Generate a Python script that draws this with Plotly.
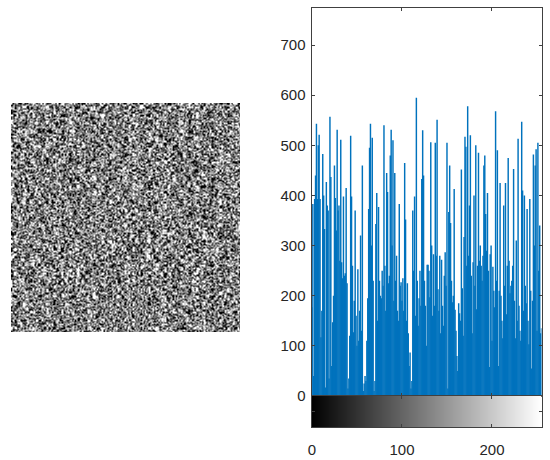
import numpy as np
import plotly.graph_objects as go

# Histogram counts per grey level (bins between visible peaks are estimates)
hist_counts = [
177,383,40,393,440,543,393,500,521,393,
117,170,483,400,333,17,427,380,370,35,
557,437,60,147,200,460,395,330,531,370,
380,270,511,267,235,398,240,245,415,225,
15,35,120,519,398,260,127,190,370,160,
100,253,110,170,320,130,460,10,25,40,
30,110,195,373,495,543,300,515,230,10,
30,343,405,150,377,230,200,195,250,220,
540,260,170,445,407,225,240,480,531,300,
510,190,445,230,280,170,150,383,220,227,
190,235,170,465,352,150,225,125,60,87,
15,30,370,250,398,160,595,230,140,195,
250,180,433,530,440,230,180,100,262,262,
250,197,506,300,160,283,180,505,280,551,
213,170,280,125,272,180,140,240,287,220,
505,15,367,460,345,230,187,200,413,172,
130,80,50,185,165,150,452,215,120,317,
517,497,260,578,280,380,520,240,125,267,
400,220,500,173,260,485,270,300,260,230,
280,460,480,363,290,405,250,58,283,300,
110,258,210,177,568,230,490,60,210,425,
200,150,115,380,220,425,163,260,475,270,
205,220,230,260,453,190,115,310,150,513,
180,130,110,547,410,170,400,220,185,373,
150,103,393,210,55,190,482,300,460,492,
130,505,250,340,125,135,
]
grey_levels = list(range(256))
x_ticks = [0, 100, 200]
y_ticks = [0, 100, 200, 300, 400, 500, 600, 700]

# Hand-typed texture sample (hex grey levels): the reference noise is too fine to read cell by cell
noise_rows = [
"2e80c5f19a3d07b6e14f82c09d7a3fe5106cb48a",
"b17f3a06de92c45810fa7e3b6c09d1f4825ea73c",
"05ca9e41f7382db06e1c95fa30748edb26c1f09a",
"e83b17d602fa4c9e5b08d37f1ea6209cf4b7315d",
"7c02f6a9385ed1b40c7ef2198da63b05ce92f417",
"4af81d3ec07295bf6e031ca8f74d29e0b56c18d3",
"d2096bf3a18e47c05dfa2e6093b7c1f84e0a3d69",
"38ec5107cfb46a2d91e3f08a57c2d6b3019ef47a",
"f14a7d92e06c3b58fa17e4029dc86f3b1a05e7c2",
"0b9362efa8d15c70e4b29f6d0138ca7fe5420b6d",
"a6e0c3718f4db29501fe7c3a86d0e19b47f2c358",
"5d172bf0e6938ac4d06f1be52a97038cf1d6e40b",
"c048fa3d1e72b960c5a8e03f7d162b9e480fa3c7",
"1fe96c05b3a7d284f01ec69b3582de07a4c1f96b",
"83b2d7e0469cf15ae73d0b82f6c41a95e0d738fc",
"e6015ac9f2387bd0416ef9a2d05c73b18fe24a06",
"47dcb10e8f63a2c5097db4e1f8263ca05e91d7f3",
"90f3e62a5d1c8b07fe4a3c917de05b682fc04ae1",
"2c78a0f1d49e63b5c20e8f7a1436dbc905f2e78a",
"fb15e3806c2a97d4f1b06e38ca52091f7de4b360",
"6a09d4c7f3e15a82b07dfc3e6094a1b8e52c07fd",
"d38e72b0a15f9c46e32a0d8fb71c64e09a3f581c",
"07f1ca59e2864b3dfa607c1e94bd25038fe16c97",
"be4603fd18a7c92e05b48df2a6301e79c5d08f2b",
"19a5ef27c06db38f41ec07a593d1f6e28b4c0a75",
"c73e08b6f4912ad0e75f1c38b60a4d9e2f08c1b6",
"5f02d8a1e37c94b60fda2e7158c3b09f64e1a7d3",
"e8b1637f0ca5d24e91f06bd37ae0285c1fb4930e",
"34c9fe05a286d1b73ec4f9012db76a3e08f5c1a9",
"a0176dc2f84e3905bf1a7e6c402d9fb815e3070d",
"dfe3801b5c97f26a0d4e8c31b9f705a6e2d1473c",
"2865f0ae3d19c7b4f06a2ed5813c9f07b4ea260f",
"f1094cb7e62a8d3f15c07ea9346bd0f18c52e7a3",
"7bda1e05f394c68e20b7fd1a4c6039ed8f15b20c",
"0e42c98fa61d3b75ef08c2b96d17a3f0e49c851b",
"c6f71b30de85a29c047fe3a1d86b52e09f3c7d16",
"938e05d6a2f1c47b0e9d36fa17c84e02b6f1a05e",
"1ca4f7e29038db6e51f0a8c37d29e6b1405fcd38",
"e50b3d81c6f9a27e04d3b1fe6a0c9785f2e13b9a",
"46f2a9073ec1d85fb6270ce49fa1d3086ebc5172",
]
# Re-ordering steps for the blocks: each block reuses the sample with rows and columns re-ordered
block_steps = [
    [(3, 7), (11, 9), (7, 13), (29, 31), (33, 3)],
    [(9, 17), (13, 3), (19, 11), (37, 27), (21, 33)],
    [(17, 21), (21, 19), (27, 23), (3, 29), (31, 37)],
    [(23, 33), (31, 27), (9, 37), (11, 21), (39, 7)],
    [(7, 29), (33, 11), (13, 39), (17, 9), (27, 19)],
]

tile = np.array([[int(ch, 16) * 17 for ch in row] for row in noise_rows])
n = tile.shape[0]
def block(r_step, c_step):
    return tile[np.ix_((np.arange(n) * r_step + 5) % n, (np.arange(n) * c_step + 2) % n)]
noise_image = np.block([[block(*s) for s in row] for row in block_steps])
n_cells = noise_image.shape[0]

# Stems of the histogram, one vertical line per grey level, through the axes' own scales
stem_x, stem_y = [], []
for g, c in zip(grey_levels, hist_counts):
    stem_x += [g, g, None]
    stem_y += [0, c, None]

W, H = 550, 460
fx = lambda a, b: [a / W, b / W]
fy = lambda a, b: [1 - b / H, 1 - a / H]
ax_col = "#404040"
font = dict(family="Liberation Sans, Arial, sans-serif", size=15, color="#262626")
grey_scale = [[0, "#000000"], [1, "#ffffff"]]

fig = go.Figure()
fig.add_trace(go.Heatmap(z=noise_image, colorscale=grey_scale, zmin=28, zmax=228, zsmooth="best",
                         showscale=False, xaxis="x", yaxis="y", hoverinfo="skip"))
fig.add_trace(go.Scatter(x=stem_x, y=stem_y, mode="lines", line=dict(color="#0072BD", width=1.45),
                         xaxis="x2", yaxis="y2", hoverinfo="skip", connectgaps=False))
fig.add_trace(go.Heatmap(z=[grey_levels], x=grey_levels, colorscale=grey_scale, zmin=0, zmax=255,
                         showscale=False, xaxis="x3", yaxis="y3", hoverinfo="skip"))

common = dict(showline=True, linecolor=ax_col, linewidth=1, mirror="allticks", ticks="inside",
              ticklen=3, tickcolor=ax_col, showgrid=False, zeroline=False, tickfont=font,
              automargin=False)
fig.update_layout(
    width=W, height=H, autosize=False,
    margin=dict(l=0, r=0, t=0, b=0, pad=0, autoexpand=False),
    paper_bgcolor="white", plot_bgcolor="white", showlegend=False,
    xaxis=dict(domain=fx(11, 240), visible=False, range=[-0.5, n_cells - 0.5]),
    yaxis=dict(domain=fy(103, 332), visible=False, range=[n_cells - 0.5, -0.5]),
    xaxis2=dict(domain=fx(311.5, 541.5), range=[-0.5, 255], anchor="y2",
                tickvals=x_ticks, showticklabels=False, **common),
    yaxis2=dict(domain=fy(7.5, 396), range=[0, 775], anchor="x2",
                tickvals=y_ticks, ticklabelstandoff=2, **common),
    xaxis3=dict(domain=fx(311.5, 541.5), range=[-0.5, 255], anchor="y3",
                tickvals=x_ticks, ticklabelstandoff=9, **common),
    yaxis3=dict(domain=fy(396, 427), range=[-0.5, 0.5], anchor="x3",
                tickvals=[0], ticktext=[""], **common),
)
fig.write_html("out.html", config=dict(displayModeBar=False),
               post_script="document.body.style.margin='0';document.body.style.overflow='hidden';")
